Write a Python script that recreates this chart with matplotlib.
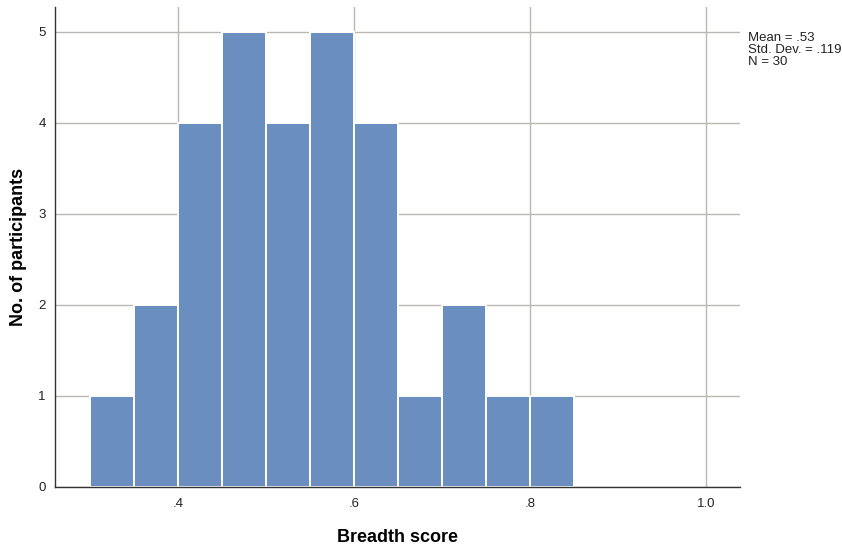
import matplotlib.pyplot as plt

# histogram bins (left edges, width .05) and counts
bin_edges = [0.30, 0.35, 0.40, 0.45, 0.50, 0.55, 0.60, 0.65, 0.70, 0.75, 0.80, 0.85]
counts = [1, 2, 4, 5, 4, 5, 4, 1, 2, 1, 1]

x_ticks = [0.4, 0.6, 0.8, 1.0]
x_tick_labels = [".4", ".6", ".8", "1.0"]
y_ticks = [0, 1, 2, 3, 4, 5]

stats_text = "Mean = .53\nStd. Dev. = .119\nN = 30"

plt.rcParams['font.family'] = ['Liberation Sans', 'DejaVu Sans']

fig = plt.figure(figsize=(8.42, 5.47), dpi=100)
ax = fig.add_axes([0.0659, 0.1102, 0.8131, 0.8770])

# bars from the bin edges
lefts = bin_edges[:-1]
widths = [b - a for a, b in zip(bin_edges[:-1], bin_edges[1:])]
ax.bar(lefts, counts, width=widths, align='edge', color='#6A8EBF',
       edgecolor='white', linewidth=1.4, zorder=2)

ax.set_xlim(0.261, 1.039)
ax.set_ylim(0, 5.27)
ax.set_xticks(x_ticks)
ax.set_xticklabels(x_tick_labels)
ax.set_yticks(y_ticks)

ax.grid(True, color='#bab8b4', linewidth=1.0, zorder=0)
ax.set_axisbelow(True)

for side in ['top', 'right']:
    ax.spines[side].set_visible(False)
for side in ['left', 'bottom']:
    ax.spines[side].set_color('#333333')
    ax.spines[side].set_linewidth(1.0)
    ax.spines[side].set_zorder(3)

ax.tick_params(axis='both', length=0, labelsize=9.5, colors='#222222')
ax.tick_params(axis='x', pad=8)
ax.tick_params(axis='y', pad=7)

ax.set_xlabel("Breadth score", fontsize=13, fontweight='bold', labelpad=14)
ax.set_ylabel("No. of participants", fontsize=13, fontweight='bold', labelpad=8)

fig.text(748 / 842, 1 - 32 / 547, stats_text, fontsize=9.5, va='top', ha='left',
         linespacing=1.0, color='#222222')

fig.savefig("out.png", dpi=100)
